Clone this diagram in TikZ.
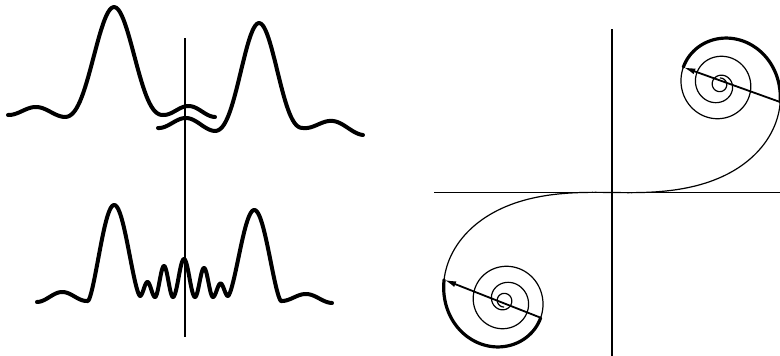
\documentclass[tikz,border=0pt]{standalone}
\usetikzlibrary{arrows.meta}
\tikzset{declare function={
  sq(\u)=\u*\u;
  pw(\u)=abs(\u)*sqrt(abs(\u));
  sincsq(\u)=sq(sin(\u r)/\u);
  ff(\t)=(1+0.926*\t)/(2+1.792*\t+3.104*\t*\t);
  gg(\t)=1/(2+4.142*\t+3.492*\t*\t+6.670*\t*\t*\t);
  dmp(\t)=0.35+0.65*exp(-5*max(0,\t-2.5)*max(0,\t-2.5));
  FC(\t)=0.5+dmp(\t)*(ff(\t)*sin(90*\t*\t)-gg(\t)*cos(90*\t*\t));
  FS(\t)=0.5-dmp(\t)*(ff(\t)*cos(90*\t*\t)+gg(\t)*sin(90*\t*\t));
}}
\tikzset{
  curve/.style={line width=4pt, line join=round, line cap=round},
  axisline/.style={line width=1.4pt},
  spiral/.style={line width=1.2pt, line join=round},
  thickarc/.style={line width=3.2pt, line cap=round},
  arr/.style={line width=1.8pt, -{Latex[length=12pt,width=6pt]}},
}
% cos^2 bump between (a,ya) and (b,yb), height h
\newcommand\lobe[5]{-- plot[domain=0:1,samples=41,variable=\s] ({#1+(#2-#1)*\s},{#3+(#4-#3)*\s-#5*sq(sin(180*\s))})}
% broader bump (sin^1.5)
\newcommand\blobe[5]{-- plot[domain=0:1,samples=61,variable=\s] ({#1+(#2-#1)*\s},{#3+(#4-#3)*\s-#5*pw(sin(180*\s))})}
% sinc^2 main lobe between (a,ya) and (b,yb), height h
\newcommand\mainlobe[5]{-- plot[domain=0:1,samples=60,variable=\s] ({#1+(#2-#1)*\s},{#3+(#4-#3)*\s-#5*sincsq(3.14159*(2*\s-1))})}
\begin{document}
\begin{tikzpicture}[x=1pt,y=-1pt]
\useasboundingbox (0,0) rectangle (780,356);
% ---------- left: diffraction patterns ----------
\coordinate (vtop) at (185,38);
\coordinate (vbot) at (185,337);
\draw[axisline] (vtop) -- (vbot);
% top left pattern
\draw[curve] (8,115) \lobe{8}{65}{115}{117}{9} \mainlobe{65}{163}{117}{115}{109} \lobe{163}{215}{115}{117}{10};
% top right pattern
\draw[curve] (158,128) \lobe{158}{215}{128}{131}{11.5} \mainlobe{215}{303}{131}{128}{106.5} \lobe{303}{363}{128}{135}{10.5};
% bottom combined pattern
\draw[curve] (37,302) \lobe{37}{87}{302}{301}{9.5} \blobe{88}{140}{301}{296}{93.5}
  \lobe{140}{155}{296}{297}{14.5} \lobe{155}{173}{297}{297}{31} \lobe{173}{195}{297}{297}{38}
  \lobe{195}{213}{297}{297}{29} \lobe{213}{228}{297}{296}{13}
  \blobe{228}{281}{296}{301}{88.5} \lobe{281}{332}{301}{303}{8};
% ---------- right: Cornu spiral ----------
\coordinate (hl) at (434,192.5);
\coordinate (hr) at (780,192.5);
\coordinate (at) at (612,29);
\coordinate (ab) at (612,356);
\draw[axisline] (hl) -- (hr);
\draw[axisline] (at) -- (ab);
\draw[spiral] plot[domain=0:3.75,samples=500,variable=\t] ({612+216*FC(\t)},{192.5-216*FS(\t)});
\draw[spiral] plot[domain=0:3.75,samples=500,variable=\t] ({612-216*FC(\t)},{192.5+216*FS(\t)});
\draw[thickarc] plot[domain=0.98:1.67,samples=80,variable=\t] ({612+216*FC(\t)},{192.5-216*FS(\t)});
\draw[thickarc] plot[domain=0.965:1.67,samples=80,variable=\t] ({612-216*FC(\t)},{192.5+216*FS(\t)});
\coordinate (ua) at ({612+216*FC(0.98)},{192.5-216*FS(0.98)});
\coordinate (ub) at ({612+216*FC(1.67)},{192.5-216*FS(1.67)});
\coordinate (la) at ({612-216*FC(1.67)},{192.5+216*FS(1.67)});
\coordinate (lb) at ({612-216*FC(0.965)},{192.5+216*FS(0.965)});
\draw[arr] (ua) -- (ub);
\draw[arr] (la) -- (lb);
\end{tikzpicture}
\end{document}
